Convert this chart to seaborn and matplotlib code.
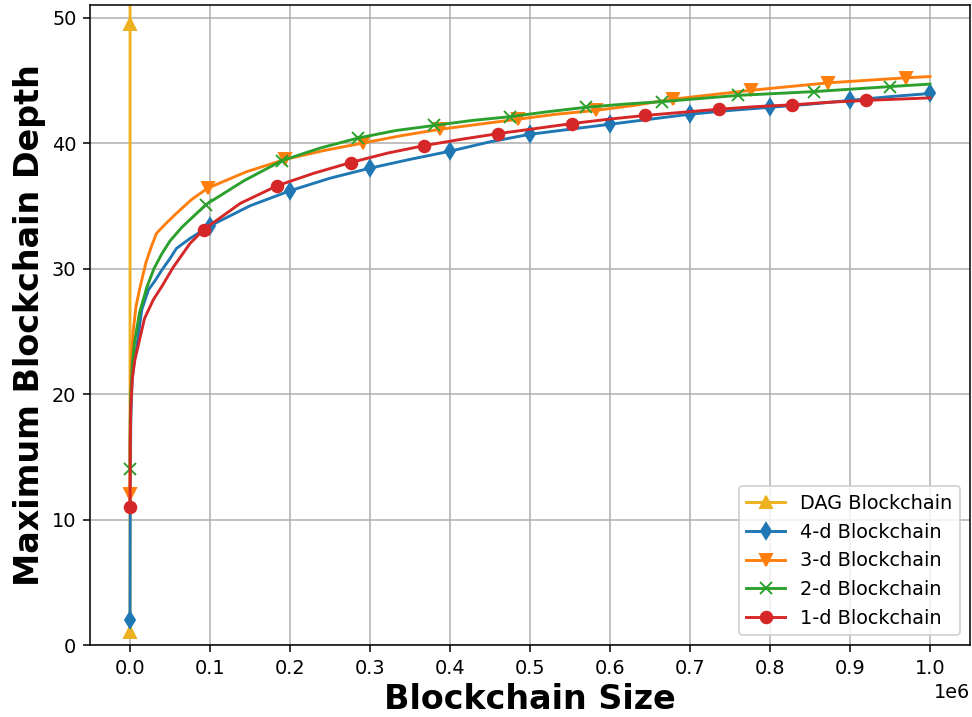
import numpy as np
import pandas as pd
import matplotlib
matplotlib.use("Agg")
import matplotlib.pyplot as plt
import seaborn as sns

# Blockchain sizes are given in thousands of blocks
dag_size = [0.001, 0.05, 0.1]
dag_depth = [1, 49.5, 100]

size_4d = [0, 0.3, 1, 2.5, 5.5, 8.3, 14.6, 23, 31, 40, 50, 58, 75, 100, 150, 200, 250,
           300, 350, 400, 450, 500, 550, 600, 650, 700, 750, 800, 850, 900, 950, 1000]
depth_4d = [2, 12, 18, 21, 22.8, 23.7, 26.7, 28.3, 29.0, 29.9, 30.8, 31.6, 32.4, 33.4,
            35.0, 36.2, 37.2, 38.0, 38.7, 39.35, 40.1, 40.7, 41.1, 41.5, 41.9, 42.3,
            42.6, 42.85, 43.1, 43.4, 43.7, 43.95]

size_3d = [0, 0.3, 1, 2, 4, 7.5, 12.5, 20, 27, 33, 45, 58, 77, 97, 145, 194, 242, 291,
           340, 388, 436, 485, 533, 582, 630, 679, 727, 776, 824, 873, 921, 970, 1000]
depth_3d = [12, 17, 20.5, 23, 25, 27, 28.5, 30.5, 31.8, 32.8, 33.6, 34.4, 35.5, 36.4,
            37.7, 38.7, 39.4, 40.0, 40.6, 41.1, 41.5, 41.9, 42.3, 42.6, 43.0, 43.5,
            43.85, 44.2, 44.5, 44.8, 45.0, 45.2, 45.3]

size_2d = [0, 0.3, 1, 3, 6, 12, 21, 30, 40, 50, 65, 80, 95, 142.5, 190, 237.5, 285,
           332.5, 380, 427.5, 475, 522.5, 570, 617.5, 665, 712.5, 760, 807.5, 855,
           902.5, 950, 1000]
depth_2d = [14, 18, 20, 22.5, 24.3, 26.5, 28.5, 30.0, 31.2, 32.2, 33.3, 34.2, 35.1,
            37.0, 38.6, 39.6, 40.4, 41.0, 41.4, 41.8, 42.1, 42.5, 42.85, 43.1, 43.3,
            43.55, 43.8, 43.95, 44.1, 44.3, 44.5, 44.7]

size_1d = [0, 0.3, 1, 3, 6, 10.4, 18, 29, 40, 54, 75, 92, 138, 184, 230, 276, 322, 368,
           414, 460, 506, 552, 598, 644, 690, 736, 782, 828, 874, 920, 960, 1000]
depth_1d = [11, 16, 19, 21.3, 22.7, 23.9, 26.0, 27.5, 28.6, 30.1, 32.0, 33.1, 35.2,
            36.6, 37.6, 38.45, 39.2, 39.8, 40.3, 40.75, 41.15, 41.55, 41.9, 42.2,
            42.45, 42.7, 42.9, 43.05, 43.25, 43.4, 43.5, 43.6]

# Sampling interval (thousands) at which each run recorded a marker
mark_step = {"DAG Blockchain": None, "4-d Blockchain": 100, "3-d Blockchain": 97,
             "2-d Blockchain": 95, "1-d Blockchain": 92}

series = [
    ("DAG Blockchain", dag_size, dag_depth, "#EDB120", "^"),
    ("4-d Blockchain", size_4d, depth_4d, "#1f77b4", "d"),
    ("3-d Blockchain", size_3d, depth_3d, "#ff7f0e", "v"),
    ("2-d Blockchain", size_2d, depth_2d, "#2ca02c", "x"),
    ("1-d Blockchain", size_1d, depth_1d, "#d62728", "o"),
]

fig = plt.figure(figsize=(972 / 139, 717 / 139), dpi=139)
ax = fig.add_axes([0.0926, 0.1004, 0.9054, 0.8926])

for name, sz, dp, col, mk in series:
    sz = np.asarray(sz, dtype=float)
    step = mark_step[name]
    if step is None:
        every = [0, 1]
    else:
        ratio = sz / step
        every = list(np.where(np.isclose(ratio, np.round(ratio)))[0])
    df = pd.DataFrame({"size": sz * 1000, "depth": dp})
    sns.lineplot(data=df, x="size", y="depth", ax=ax, color=col, label=name,
                 marker=mk, markevery=every, markersize=6, linewidth=1.5,
                 markeredgecolor=col, markeredgewidth=1.0, errorbar=None)

ax.set_xlim(-0.05e6, 1.05e6)
ax.set_ylim(0, 51)
ax.set_xticks(np.arange(0, 1.0e6 + 1, 1e5))
ax.set_yticks([0, 10, 20, 30, 40, 50])
ax.grid(True, color="#b0b0b0", linewidth=0.8)
ax.set_axisbelow(True)
for sp in ax.spines.values():
    sp.set_color("black")
    sp.set_linewidth(0.8)
ax.tick_params(labelsize=10)
ax.set_xlabel("Blockchain Size", fontsize=17.3, fontweight="bold", labelpad=3)
ax.set_ylabel("Maximum Blockchain Depth", fontsize=17.3, fontweight="bold", labelpad=3)
ax.legend(loc="lower right", fontsize=10)

fig.savefig("out.png", dpi=139)
